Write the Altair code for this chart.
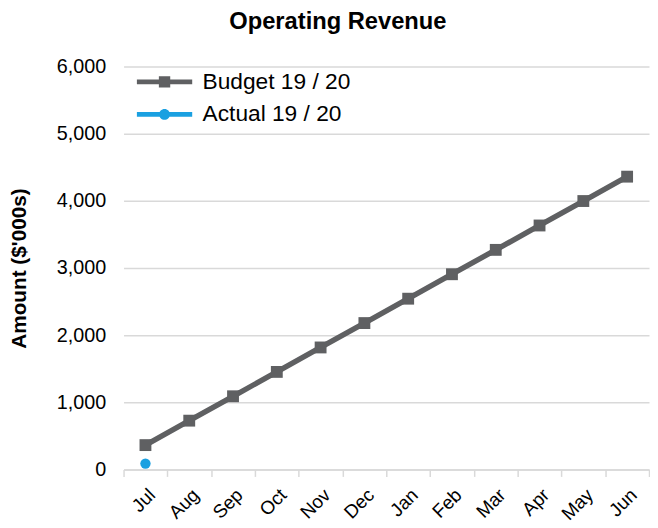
import altair as alt
import pandas as pd

months = ["Jul", "Aug", "Sep", "Oct", "Nov", "Dec", "Jan", "Feb", "Mar", "Apr", "May", "Jun"]
budget = [363, 727, 1090, 1453, 1817, 2180, 2543, 2907, 3270, 3633, 3997, 4360]
actual_months = ["Jul"]
actual = [88]
y_ticks = [0, 1000, 2000, 3000, 4000, 5000, 6000]

BUDGET = "Budget 19 / 20"
ACTUAL = "Actual 19 / 20"
series_names = [BUDGET, ACTUAL]
series_colors = ["#5f6062", "#1aa0e1"]

df_budget = pd.DataFrame({"month": months, "value": budget, "series": BUDGET})
df_actual = pd.DataFrame({"month": actual_months, "value": actual, "series": ACTUAL})
df_legend = pd.DataFrame({"series": series_names})

FONT = "Liberation Sans, Arial, sans-serif"
GRID = "#d9d9d9"

x_enc = alt.X(
    "month:N",
    sort=months,
    bandPosition=0.5,
    scale=alt.Scale(type="band", domain=months, paddingInner=0, paddingOuter=0),
    axis=alt.Axis(
        title=None,
        labelAngle=-45,
        labelFontSize=19,
        labelColor="#000000",
        labelPadding=9,
        labelOverlap=False,
        domainColor=GRID,
        domainWidth=1.5,
        tickColor=GRID,
        tickWidth=1.5,
        tickSize=7,
        tickBand="extent",
        grid=False,
    ),
)
y_enc = alt.Y(
    "value:Q",
    scale=alt.Scale(domain=[0, 6000]),
    axis=alt.Axis(
        title="Amount ($'000s)",
        titleFontSize=21,
        titleFontWeight="bold",
        titleColor="#000000",
        titlePadding=27,
        values=y_ticks,
        format=",d",
        labelFontSize=20,
        labelColor="#000000",
        labelPadding=18,
        domain=False,
        ticks=False,
        gridColor=GRID,
        gridWidth=1.5,
    ),
)

budget_line = alt.Chart(df_budget).mark_line(color=series_colors[0], strokeWidth=5.5).encode(x=x_enc, y=y_enc)
budget_pts = alt.Chart(df_budget).mark_square(color=series_colors[0], size=144, opacity=1).encode(x=x_enc, y=y_enc)
actual_pts = alt.Chart(df_actual).mark_circle(color=series_colors[1], size=110, opacity=1).encode(x=x_enc, y=y_enc)

line_sq = "M-5.6,-0.48H5.6V0.48H-5.6Z M-1.15,-1.15H1.15V1.15H-1.15Z"
line_ci = "M-5.6,-0.48H5.6V0.48H-5.6Z M-1.1,0A1.1,1.1 0 1 1 1.1,0A1.1,1.1 0 1 1 -1.1,0Z"

legend_layer = alt.Chart(df_legend).mark_point(filled=True, opacity=0).encode(
    color=alt.Color(
        "series:N",
        scale=alt.Scale(domain=series_names, range=series_colors),
        legend=alt.Legend(
            title=None,
            orient="none",
            legendX=30,
            legendY=4,
            padding=0,
            symbolSize=100,
            symbolOpacity=1,
            symbolStrokeWidth=0,
            labelFontSize=23,
            labelFont=FONT,
            labelColor="#000000",
            labelOffset=27,
            rowPadding=9,
            labelExpr="datum.label == '" + BUDGET + "' ? '\u00a0' + datum.label : datum.label",
        ),
    ),
    shape=alt.Shape(
        "series:N",
        scale=alt.Scale(domain=series_names, range=[line_sq, line_ci]),
        legend=None,
    ),
).transform_filter("false")

chart = (
    alt.layer(budget_line, budget_pts, actual_pts, legend_layer)
    .properties(
        width=532,
        height=408,
        autosize=alt.AutoSizeParams(type="none"),
        padding={"left": 117, "top": 56, "right": 1, "bottom": 56},
        title=alt.Title(
            "Operating Revenue",
            fontSize=24,
            fontWeight="bold",
            font=FONT,
            color="#000000",
            anchor="middle",
            frame="group",
            dx=-49,
            offset=23,
        ),
    )
    .configure(font=FONT)
    .configure_view(stroke=None)
)

chart.save("out.html", embed_options={"renderer": "svg", "actions": False})
